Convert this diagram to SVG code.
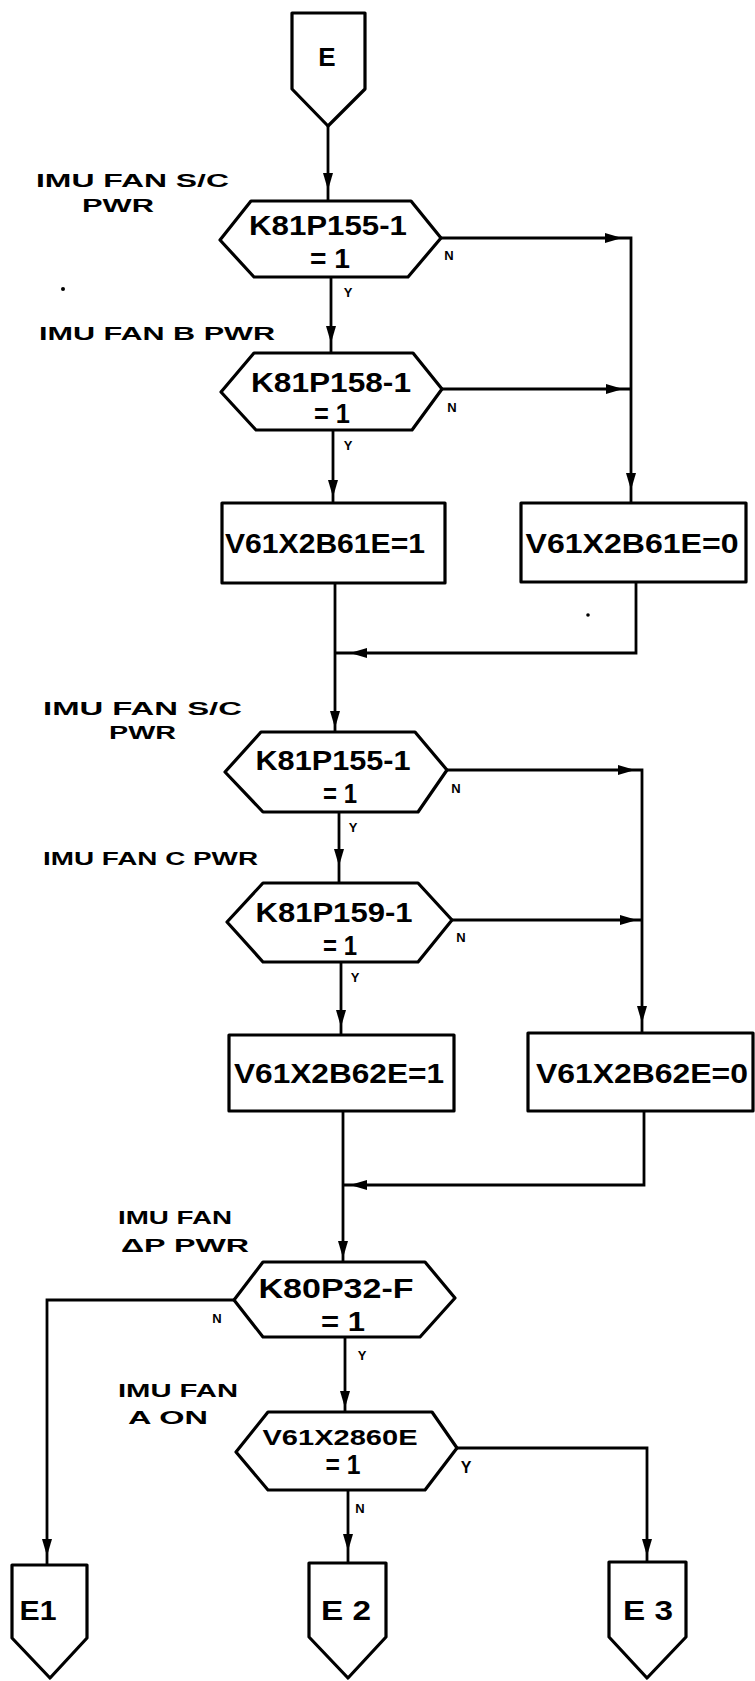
<svg xmlns="http://www.w3.org/2000/svg" xmlns:xlink="http://www.w3.org/1999/xlink" width="755" height="1681" viewBox="0 0 755 1681">
<style>
.shape{fill:#fff;stroke:#000;stroke-width:3.2;stroke-linejoin:round}
.ln{fill:none;stroke:#000;stroke-width:2.8;stroke-linejoin:miter}
.t{font-family:"Liberation Sans",Arial,sans-serif;font-weight:bold;font-size:27px;fill:#000;text-anchor:middle}
.lb{font-family:"Liberation Sans",Arial,sans-serif;font-weight:bold;font-size:18px;fill:#000}
.yn{font-family:"Liberation Sans",Arial,sans-serif;font-weight:bold;font-size:13px;fill:#000;text-anchor:middle}
</style>
<defs>
<path id="ad" d="M-5,-17 L5,-17 L0,0 Z" fill="#000"/>
<path id="ar" d="M-17,-5 L-17,5 L0,0 Z" fill="#000"/>
<path id="al" d="M17,-5 L17,5 L0,0 Z" fill="#000"/>
</defs>
<rect width="755" height="1681" fill="#fff"/>

<g id="connectors">
<path class="ln" d="M328,126 V201"/>
<path class="ln" d="M441,238 H631 V503"/>
<path class="ln" d="M331,277 V353"/>
<path class="ln" d="M442,389 H631"/>
<path class="ln" d="M333,430 V503"/>
<path class="ln" d="M335,583 V732"/>
<path class="ln" d="M636,582 V653 H335"/>
<path class="ln" d="M447,770 H642 V1033"/>
<path class="ln" d="M339,812 V883"/>
<path class="ln" d="M452,920 H642"/>
<path class="ln" d="M341,962 V1035"/>
<path class="ln" d="M343,1111 V1262"/>
<path class="ln" d="M644,1111 V1185 H343"/>
<path class="ln" d="M234,1300 H47 V1565"/>
<path class="ln" d="M345,1337 V1412"/>
<path class="ln" d="M457,1448 H647 V1562"/>
<path class="ln" d="M348,1490 V1563"/>
<use xlink:href="#ad" x="328" y="190"/>
<use xlink:href="#ar" x="622" y="238"/>
<use xlink:href="#ad" x="631" y="490"/>
<use xlink:href="#ad" x="331" y="343"/>
<use xlink:href="#ar" x="623" y="389"/>
<use xlink:href="#ad" x="333" y="497"/>
<use xlink:href="#al" x="350" y="653"/>
<use xlink:href="#ad" x="335" y="728"/>
<use xlink:href="#ar" x="635" y="770"/>
<use xlink:href="#ad" x="339" y="866"/>
<use xlink:href="#ar" x="637" y="920"/>
<use xlink:href="#ad" x="341" y="1027"/>
<use xlink:href="#ad" x="642" y="1023"/>
<use xlink:href="#al" x="350" y="1185"/>
<use xlink:href="#ad" x="343" y="1258"/>
<use xlink:href="#ad" x="47" y="1556"/>
<use xlink:href="#ad" x="345" y="1408"/>
<use xlink:href="#ad" x="647" y="1556"/>
<use xlink:href="#ad" x="348" y="1551"/>
<text class="yn" x="449" y="260">N</text>
<text class="yn" x="348" y="297">Y</text>
<text class="yn" x="452" y="412">N</text>
<text class="yn" x="348" y="450">Y</text>
<text class="yn" x="456" y="793">N</text>
<text class="yn" x="353" y="832">Y</text>
<text class="yn" x="461" y="942">N</text>
<text class="yn" x="355" y="982">Y</text>
<text class="yn" x="217" y="1323">N</text>
<text class="yn" x="362" y="1360">Y</text>
<text class="yn" x="466" y="1473" style="font-size:16px">Y</text>
<text class="yn" x="360" y="1513">N</text>
</g>

<g id="labels">
<text class="lb" x="36" y="187" textLength="193" lengthAdjust="spacingAndGlyphs">IMU FAN S/C</text>
<text class="lb" x="82" y="212" textLength="72" lengthAdjust="spacingAndGlyphs">PWR</text>
<text class="lb" x="39" y="340" textLength="236" lengthAdjust="spacingAndGlyphs">IMU FAN B PWR</text>
<text class="lb" x="43" y="715" textLength="199" lengthAdjust="spacingAndGlyphs">IMU FAN S/C</text>
<text class="lb" x="109" y="739" textLength="67" lengthAdjust="spacingAndGlyphs">PWR</text>
<text class="lb" x="43" y="865" textLength="215" lengthAdjust="spacingAndGlyphs">IMU FAN C PWR</text>
<text class="lb" x="118" y="1224" textLength="114" lengthAdjust="spacingAndGlyphs">IMU FAN</text>
<text class="lb" x="121" y="1252" textLength="128" lengthAdjust="spacingAndGlyphs">ΔP  PWR</text>
<text class="lb" x="118" y="1397" textLength="120" lengthAdjust="spacingAndGlyphs">IMU FAN</text>
<text class="lb" x="128" y="1424" textLength="80" lengthAdjust="spacingAndGlyphs">A ON</text>
<circle cx="63" cy="289" r="2" fill="#000"/>
<circle cx="588" cy="615" r="1.8" fill="#000"/>
</g>

<g id="E">
<polygon class="shape" points="292,13 365,13 365,89 328,126 292,89"/>
<text class="t" x="327" y="66" style="font-size:26px">E</text>
</g>

<g id="d1">
<polygon class="shape" points="251,201 411,201 441,238 408,277 254,277 220,240"/>
<text class="t" x="328" y="235" textLength="158" lengthAdjust="spacingAndGlyphs">K81P155-1</text>
<text class="t" x="330" y="268" textLength="40" lengthAdjust="spacingAndGlyphs">= 1</text>
</g>

<g id="d2">
<polygon class="shape" points="254,353 413,353 442,389 412,430 256,430 221,392"/>
<text class="t" x="331" y="392" textLength="160" lengthAdjust="spacingAndGlyphs">K81P158-1</text>
<text class="t" x="332" y="423" textLength="36" lengthAdjust="spacingAndGlyphs">= 1</text>
</g>

<g id="b1">
<rect class="shape" x="222" y="503" width="223" height="80"/>
<text class="t" x="325" y="553" textLength="200" lengthAdjust="spacingAndGlyphs">V61X2B61E=1</text>
</g>

<g id="b2">
<rect class="shape" x="521" y="503" width="225" height="79"/>
<text class="t" x="632" y="553" textLength="213" lengthAdjust="spacingAndGlyphs">V61X2B61E=0</text>
</g>

<g id="d3">
<polygon class="shape" points="261,732 415,732 447,770 418,812 263,812 225,772"/>
<text class="t" x="333" y="770" textLength="155" lengthAdjust="spacingAndGlyphs">K81P155-1</text>
<text class="t" x="340" y="803" textLength="34" lengthAdjust="spacingAndGlyphs">= 1</text>
</g>

<g id="d4">
<polygon class="shape" points="263,883 418,883 452,920 418,962 263,962 227,922"/>
<text class="t" x="334" y="922" textLength="157" lengthAdjust="spacingAndGlyphs">K81P159-1</text>
<text class="t" x="340" y="955" textLength="34" lengthAdjust="spacingAndGlyphs">= 1</text>
</g>

<g id="b3">
<rect class="shape" x="229" y="1035" width="225" height="76"/>
<text class="t" x="339" y="1083" textLength="210" lengthAdjust="spacingAndGlyphs">V61X2B62E=1</text>
</g>

<g id="b4">
<rect class="shape" x="528" y="1033" width="225" height="78"/>
<text class="t" x="642" y="1083" textLength="212" lengthAdjust="spacingAndGlyphs">V61X2B62E=0</text>
</g>

<g id="d5">
<polygon class="shape" points="263,1262 425,1262 455,1298 420,1337 263,1337 234,1300"/>
<text class="t" x="336" y="1298" textLength="155" lengthAdjust="spacingAndGlyphs">K80P32-F</text>
<text class="t" x="343" y="1331" textLength="44" lengthAdjust="spacingAndGlyphs">= 1</text>
</g>

<g id="d6">
<polygon class="shape" points="268,1412 432,1412 457,1448 425,1490 268,1490 236,1452"/>
<text class="t" x="340" y="1445" style="font-size:22px" textLength="155" lengthAdjust="spacingAndGlyphs">V61X2860E</text>
<text class="t" x="343" y="1474" textLength="35" lengthAdjust="spacingAndGlyphs">= 1</text>
</g>

<g id="E1">
<polygon class="shape" points="12,1565 87,1565 87,1638 50,1678 12,1638"/>
<text class="t" x="38" y="1620" textLength="37" lengthAdjust="spacingAndGlyphs">E1</text>
</g>

<g id="E2">
<polygon class="shape" points="309,1563 386,1563 386,1637 348,1678 309,1637"/>
<text class="t" x="346" y="1620" textLength="50" lengthAdjust="spacingAndGlyphs">E 2</text>
</g>

<g id="E3">
<polygon class="shape" points="609,1562 686,1562 686,1637 647,1678 609,1637"/>
<text class="t" x="648" y="1620" textLength="50" lengthAdjust="spacingAndGlyphs">E 3</text>
</g>
</svg>
